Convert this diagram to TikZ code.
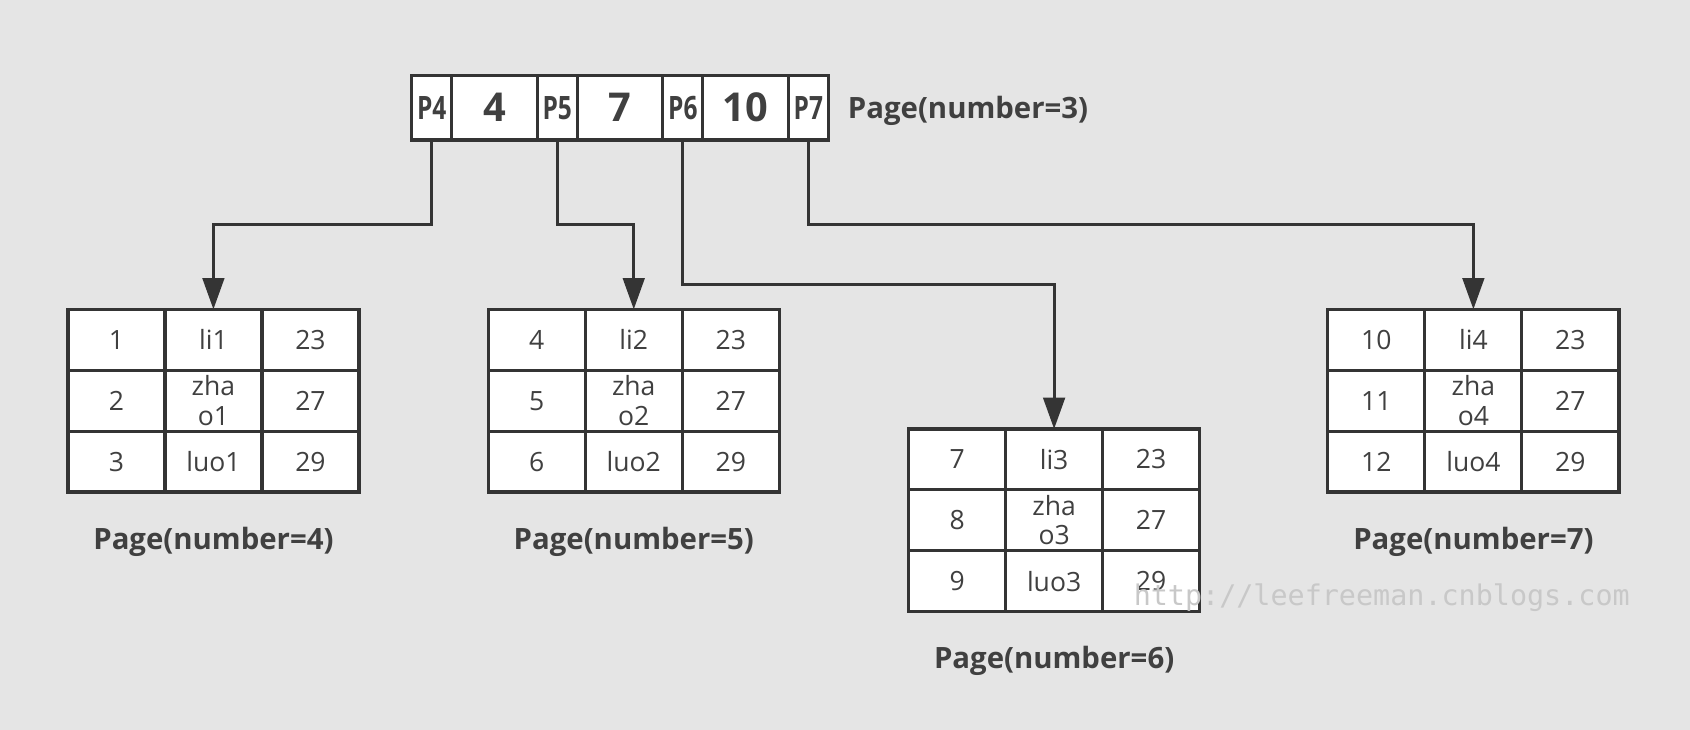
\documentclass[tikz,border=0pt]{standalone}
\usepackage{fontspec}
\setmainfont{Open Sans}
\newfontfamily\narrowfont[FakeStretch=0.76]{Open Sans}
\newfontfamily\markfont{DejaVu Sans Mono}
\usepackage{xcolor}
\definecolor{bgc}{RGB}{229,229,229}
\definecolor{ink}{RGB}{52,52,52}
\definecolor{txt}{RGB}{64,64,64}
\definecolor{wmk}{RGB}{200,200,200}
\usepackage{tikz}
\usetikzlibrary{calc,positioning,arrows.meta}
\newcommand{\cellheight}{1.13cm}
% #1 name, #2 upper left corner, #3 first key, #4 suffix, #5 page number
\newcommand{\PageTable}[5]{%
\foreach \row/\name/\age in {0/li#4/23,1/{zha\\o#4}/27,2/luo#4/29}{%
	\pgfmathtruncatemacro{\key}{#3+\row}
	\node[pagecell,anchor=north west] (#1-\row-0) at ($(#2)+(0,-\row*\cellheight)$) {\key};
	\node[pagecell,right=0pt of #1-\row-0] (#1-\row-1) {\name};
	\node[pagecell,right=0pt of #1-\row-1] (#1-\row-2) {\age};
}
\node[pagelabel] (#1-label) at ($(#1-2-1.south)+(0,-0.92)$) {Page(number=#5)};}

\begin{document}
\begin{tikzpicture}[line cap=rect]
	\tikzstyle{pagecell}=[draw=ink,fill=white,line width=1.7pt,outer sep=0pt,inner sep=0pt,
		minimum width=1.8cm,minimum height=\cellheight,align=center,text=txt,
		font=\fontsize{14}{15.5}\selectfont];
	\tikzstyle{pagelabel}=[text=txt,font=\bfseries\fontsize{15.5}{18}\selectfont];
	\tikzstyle{ptr}=[draw=ink,fill=white,line width=1.7pt,outer sep=0pt,inner sep=0pt,
		minimum width=0.74cm,minimum height=1.2cm,text=txt,font=\narrowfont\bfseries\fontsize{17}{20}\selectfont];
	\tikzstyle{key}=[ptr,minimum width=1.59cm,font=\bfseries\fontsize{21}{24}\selectfont];
	\tikzstyle{link}=[draw=ink,line width=1.6pt,line cap=butt,-{Triangle[width=0.4cm,length=0.58cm]}];
%<--------------------------------------------------------------------------->%

	\fill[bgc] (0,1.06) rectangle (31.36,14.6);
	%% Root page
	\node[ptr] (p4) at (8.01,12.6) {P4};
	\node[key,right=0pt of p4] (k4) {4};
	\node[ptr,right=0pt of k4] (p5) {P5};
	\node[key,right=0pt of p5] (k7) {7};
	\node[ptr,right=0pt of k7] (p6) {P6};
	\node[key,right=0pt of p6] (k10) {10};
	\node[ptr,right=0pt of k10] (p7) {P7};
	\node[pagelabel,anchor=west,right=0.24cm of p7,yshift=-0.06cm] (root-label) {Page(number=3)};
	%% Leaf pages
	\PageTable{t4}{1.26,8.86}{1}{1}{4}
	\PageTable{t5}{9.06,8.86}{4}{2}{5}
	\PageTable{t6}{16.86,6.64}{7}{3}{6}
	\PageTable{t7}{24.64,8.86}{10}{4}{7}
	%% Pointers
	\draw[link] (p4.south) -- ++(0,-1.56) -| (t4-0-1.north);
	\draw[link] (p5.south) -- ++(0,-1.56) -| (t5-0-1.north);
	\draw[link] (p6.south) -- ++(0,-2.68) -| (t6-0-1.north);
	\draw[link] (p7.south) -- ++(0,-1.56) -| (t7-0-1.north);
	%% Watermark
	\node[text=wmk,font=\markfont\fontsize{15}{18}\selectfont] (mark) at (25.64,3.5) {http://leefreeman.cnblogs.com};
\end{tikzpicture}
\end{document}
